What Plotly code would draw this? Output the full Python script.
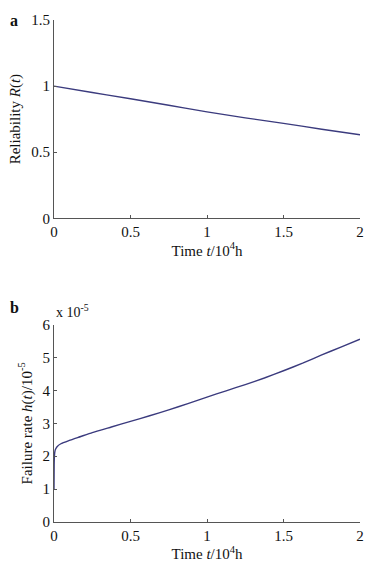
import plotly.graph_objects as go

# Panel a: reliability
t_a = [0, 0.25, 0.5, 0.75, 1.0, 1.25, 1.5, 1.75, 2.0]
R_a = [1.0, 0.952, 0.904, 0.855, 0.805, 0.76, 0.718, 0.674, 0.632]

# Panel b: failure rate (x 1e-5)
t_b = [0, 0.001, 0.003, 0.006, 0.01, 0.02, 0.045, 0.1, 0.175, 0.25, 0.375, 0.5, 0.625, 0.75, 0.875,
       1.0, 1.125, 1.25, 1.375, 1.5, 1.625, 1.75, 1.875, 2.0]
h_b = [1.0, 1.75, 2.02, 2.15, 2.21, 2.29, 2.38, 2.48, 2.60, 2.72, 2.89, 3.06, 3.23, 3.41, 3.60,
       3.80, 3.99, 4.18, 4.38, 4.60, 4.83, 5.08, 5.32, 5.56]

x_ticks = [0, 0.5, 1, 1.5, 2]
x_ticklabels = ["0", "0.5", "1", "1.5", "2"]
ya_ticks = [0, 0.5, 1, 1.5]
ya_ticklabels = ["0", "0.5", "1", "1.5"]
yb_ticks = [0, 1, 2, 3, 4, 5, 6]

FONT = "Liberation Serif"
LINE = "#3b3b7e"
AX = "#555555"
TS = 15
LS = 15

fig = go.Figure()
fig.add_trace(go.Scatter(x=t_a, y=R_a, mode="lines",
                         line=dict(color=LINE, width=1.4, shape="spline", simplify=False),
                         xaxis="x", yaxis="y", showlegend=False))
fig.add_trace(go.Scatter(x=t_b, y=h_b, mode="lines",
                         line=dict(color=LINE, width=1.4, shape="spline", smoothing=0.5, simplify=False),
                         xaxis="x2", yaxis="y2", showlegend=False))

axis_common = dict(showline=True, linecolor=AX, linewidth=1, ticks="inside", ticklen=3,
                   tickcolor=AX, showgrid=False, zeroline=False, mirror=False,
                   tickfont=dict(family=FONT, size=TS, color="#111"))

fig.update_layout(
    width=376, height=571,
    margin=dict(l=54, r=15, t=13, b=44),
    paper_bgcolor="white", plot_bgcolor="white",
    font=dict(family=FONT, size=TS, color="#111"),
    xaxis=dict(domain=[0, 1], anchor="y", range=[0, 2], tickvals=x_ticks, ticktext=x_ticklabels,
               title=dict(text="Time <i>t</i>/10<sup>4</sup>h", font=dict(family=FONT, size=LS), standoff=4),
               **axis_common),
    yaxis=dict(domain=[0.605, 1], anchor="x", range=[0, 1.5], tickvals=ya_ticks, ticktext=ya_ticklabels,
               title=dict(text="Reliability <i>R</i>(<i>t</i>)", font=dict(family=FONT, size=LS), standoff=6),
               **axis_common),
    xaxis2=dict(domain=[0, 1], anchor="y2", range=[0, 2], tickvals=x_ticks, ticktext=x_ticklabels,
                title=dict(text="Time <i>t</i>/10<sup>4</sup>h", font=dict(family=FONT, size=LS), standoff=4),
                **axis_common),
    yaxis2=dict(domain=[0, 0.393], anchor="x2", range=[0, 6], tickvals=yb_ticks,
                title=dict(text="Failure rate <i>h</i>(<i>t</i>)/10<sup>-5</sup>", font=dict(family=FONT, size=LS), standoff=6),
                **axis_common),
    annotations=[
        dict(text="<b>a</b>", xref="paper", yref="paper", x=-0.13, y=1.0, xanchor="center", yanchor="middle",
             showarrow=False, font=dict(family=FONT, size=16, color="#111")),
        dict(text="<b>b</b>", xref="paper", yref="paper", x=-0.13, y=0.427, xanchor="center", yanchor="middle",
             showarrow=False, font=dict(family=FONT, size=16, color="#111")),
        dict(text="x 10<sup>-5</sup>", xref="paper", yref="paper", x=0.0, y=0.398, xanchor="left", yanchor="bottom",
             showarrow=False, font=dict(family=FONT, size=14, color="#111")),
    ],
)

fig.write_html("out.html", config={"displayModeBar": False},
               post_script="document.body.style.margin='0';document.body.style.padding='0';")
